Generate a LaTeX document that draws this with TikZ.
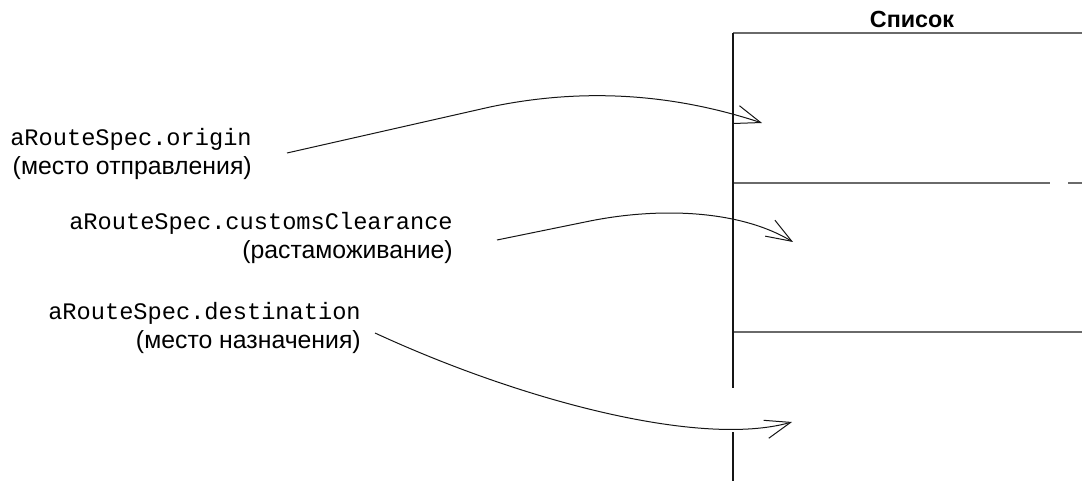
\documentclass[tikz,border=0pt]{standalone}
\usepackage{fontspec}
\setmainfont{Liberation Sans}
\setmonofont{Liberation Mono}
\usetikzlibrary{arrows.meta, calc}
\definecolor{lsink}{HTML}{151515}
\definecolor{lsgrey}{HTML}{6A6A6A}
\newcommand\specname[1]{{\ttfamily\fontsize{17.75pt}{21.75pt}\selectfont #1}}

\begin{document}
\begin{tikzpicture}[x=0.75pt, y=-0.75pt,
        spec/.style={anchor=base east, align=right, inner sep=0pt,
                     font=\fontsize{18.6pt}{21.75pt}\selectfont},
        head/.style={anchor=base, inner sep=0pt,
                     font=\bfseries\fontsize{17.5pt}{20pt}\selectfont},
        rule/.style={draw=lsgrey, line width=0.9pt},
        edge/.style={draw=lsink, line width=1pt},
        ref/.style={draw=lsink, line width=0.75pt,
                    -{Straight Barb[length=19pt, width=14pt]}}]
        \useasboundingbox (0,0) rectangle (1082,481);
        % labels of the route specification
        \node[spec] (orig) at (252,175) {\specname{aRouteSpec.origin}\\(место отправления)};
        \node[spec] (cust) at (453,258) {\specname{aRouteSpec.customsClearance}\\(растаможивание)};
        \node[spec] (dest) at (361,348) {\specname{aRouteSpec.destination}\\(место назначения)};
        % the list
        \node[head] (list) at (912,28) {Список};
        \draw[rule] (733,33) -- (1082,33);
        \draw[rule] (733,183) -- (1050,183);
        \draw[rule] (1068,183) -- (1082,183);
        \draw[rule] (733,332) -- (1082,332);
        \draw[edge] (733,33) -- (733,388);
        \draw[edge] (733,432) -- (733,481);
        \coordinate (slot1) at (762,123);
        \coordinate (slot2) at (793,242);
        \coordinate (slot3) at (792,422);
        % references into the list
        \draw[ref] ([shift={(35,-22)}]orig.base east) -- (490,107)
          .. controls (590,86) and (680,96) .. (slot1);
        \draw[ref] ([shift={(44,-18)}]cust.base east) -- (590,221)
          .. controls (660,207) and (740,210) .. (slot2);
        \draw[ref] ([shift={(14,-15)}]dest.base east)
          .. controls (520,400) and (700,448) .. (slot3);
      \end{tikzpicture}
\end{document}
